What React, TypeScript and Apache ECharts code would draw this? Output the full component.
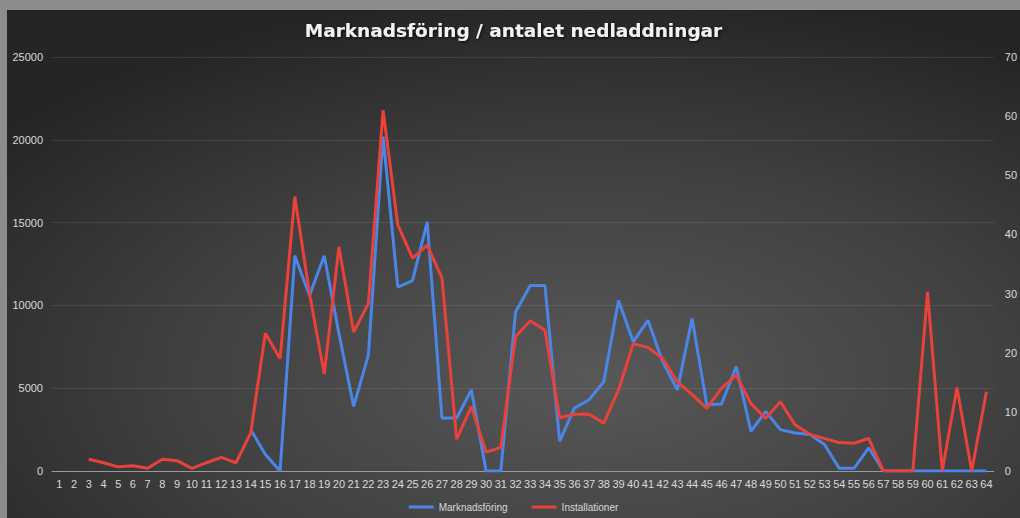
import React, { useEffect, useRef } from "react";
import * as echarts from "echarts";

const categories: string[] = Array.from({ length: 64 }, (_, i) => String(i + 1));

const marknadsforing: (number | null)[] = [
  null, null, null, null, null, null, null, null, null, null, null, null, null,
  2500, 1000, 0, 13000, 10600, 13000, 8300, 3900, 7000, 20200, 11100, 11500, 15050,
  3200, 3200, 4900, 0, 0, 9600, 11200, 11200, 1800, 3800, 4300, 5400, 10300, 7800,
  9100, 6600, 4900, 9200, 4000, 4050, 6300, 2400, 3600, 2500, 2300, 2200, 1600,
  160, 160, 1400, 0, 0, 0, 0, 0, 0, 0, 0,
];

const installationer: (number | null)[] = [
  null, null, 2, 1.4, 0.7, 0.9, 0.45, 2, 1.75, 0.45, 1.4, 2.3, 1.4,
  6.4, 23.3, 19, 46.4, 30, 16.4, 37.9, 23.5, 28.3, 61, 41.6, 36, 38.2,
  32.6, 5.4, 10.9, 3.2, 4, 22.7, 25.4, 23.8, 9, 9.6, 9.6, 8.1, 13.7, 21.5,
  20.9, 19, 15.1, 12.9, 10.6, 14, 16.2, 11.4, 8.9, 11.7, 7.8, 6.2, 5.5,
  4.8, 4.7, 5.5, 0, 0, 0, 30.3, 0, 14.1, 0, 13.4,
];

const leftTicks = { min: 0, max: 25000, interval: 5000 };
const rightTicks = { min: 0, max: 70, interval: 10 };

const labelColor = "#d9d9d9";
const font = "Liberation Sans, Arial, sans-serif";

export default function App() {
  const ref = useRef<HTMLDivElement>(null);
  useEffect(() => {
    if (!ref.current) return;
    const chart = echarts.init(ref.current, undefined, { renderer: "svg" });
    chart.setOption({
      animation: false,
      backgroundColor: new echarts.graphic.RadialGradient(0.58, 0.72, 0.75, [
        { offset: 0, color: "#585858" },
        { offset: 0.55, color: "#404040" },
        { offset: 1, color: "#252525" },
      ]),
      textStyle: { fontFamily: font },
      title: {
        text: "Marknadsföring / antalet nedladdningar",
        left: "center",
        top: 6,
        textStyle: {
          color: "#f2f2f2",
          fontSize: 18.5,
          fontWeight: "bold",
          fontFamily: "DejaVu Sans, Verdana, sans-serif",
          textShadowColor: "rgba(0,0,0,0.8)",
          textShadowBlur: 3,
          textShadowOffsetX: 1,
          textShadowOffsetY: 1,
        },
      },
      legend: {
        bottom: 1,
        left: "center",
        icon: "rect",
        itemWidth: 25,
        itemHeight: 3,
        itemGap: 24,
        textStyle: { color: labelColor, fontSize: 10, fontFamily: font },
        data: ["Marknadsföring", "Installationer"],
      },
      grid: { left: 45, right: 25, top: 47, bottom: 47, containLabel: false },
      xAxis: {
        type: "category",
        data: categories,
        boundaryGap: true,
        axisLine: { lineStyle: { color: "#9a9a9a", width: 1 } },
        axisTick: { show: false },
        axisLabel: { color: labelColor, fontSize: 11, interval: 0, margin: 7, fontFamily: font },
      },
      yAxis: [
        {
          type: "value",
          ...leftTicks,
          axisLine: { show: false },
          axisTick: { show: false },
          axisLabel: {
            color: labelColor,
            fontSize: 11,
            margin: 9,
            fontFamily: font,
            formatter: (v: number) => String(v),
          },
          splitLine: { lineStyle: { color: "rgba(255,255,255,0.09)", width: 1 } },
        },
        {
          type: "value",
          ...rightTicks,
          axisLine: { show: false },
          axisTick: { show: false },
          axisLabel: {
            color: labelColor,
            fontSize: 11,
            margin: 11,
            fontFamily: font,
            formatter: (v: number) => String(v),
          },
          splitLine: { show: false },
        },
      ],
      series: [
        {
          name: "Marknadsföring",
          type: "line",
          yAxisIndex: 0,
          data: marknadsforing,
          symbol: "none",
          lineStyle: { color: "#4a86e8", width: 3 },
          itemStyle: { color: "#4a86e8" },
          connectNulls: false,
        },
        {
          name: "Installationer",
          type: "line",
          yAxisIndex: 1,
          data: installationer,
          symbol: "none",
          lineStyle: { color: "#e8423a", width: 3 },
          itemStyle: { color: "#e8423a" },
          connectNulls: false,
        },
      ],
    });
    return () => chart.dispose();
  }, []);

  return (
    <div style={{ position: "fixed", left: 0, top: 0, width: 1020, height: 518, background: "#8c8c8c", overflow: "hidden" }}>
      <div ref={ref} style={{ position: "absolute", left: 7, top: 10, width: 1013, height: 508 }} />
    </div>
  );
}
